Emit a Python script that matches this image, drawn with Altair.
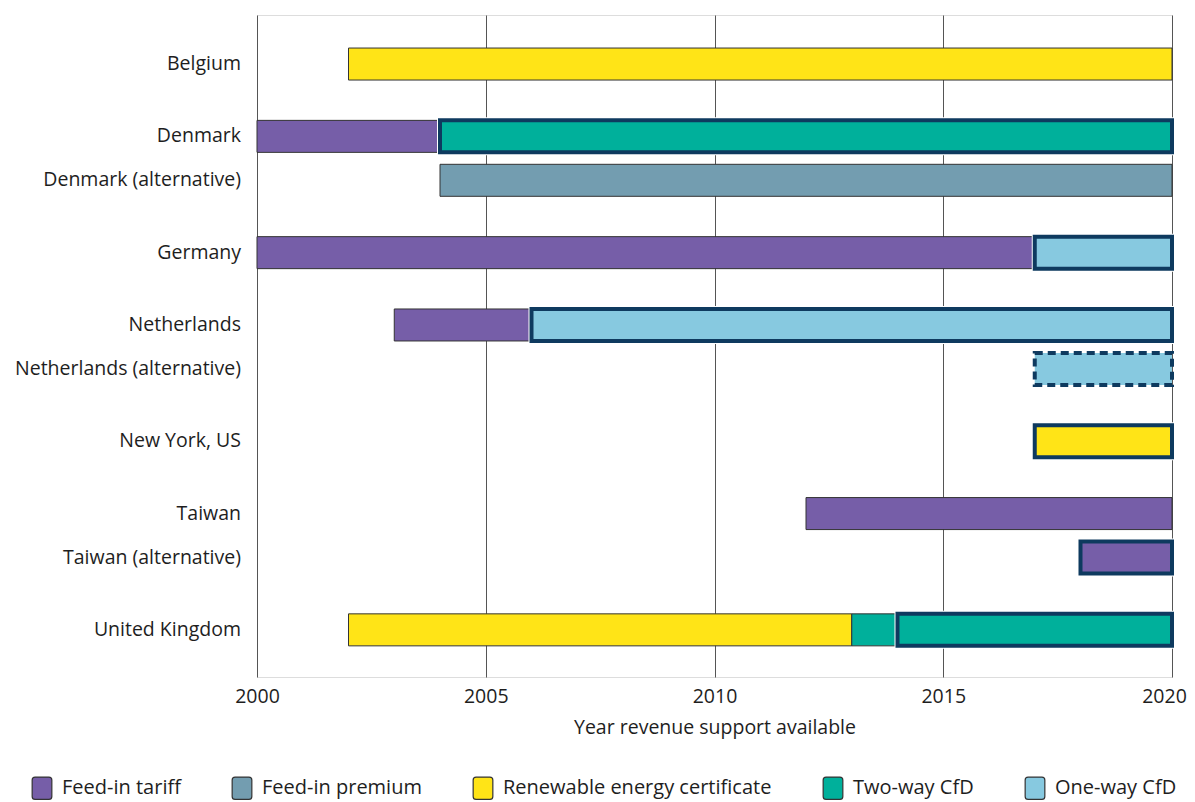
import altair as alt
import pandas as pd

# Rows (top to bottom) and their grouping
rows = ["Belgium", "Denmark", "Denmark (alternative)", "Germany", "Netherlands",
        "Netherlands (alternative)", "New York, US", "Taiwan", "Taiwan (alternative)",
        "United Kingdom"]
row_group = [0, 1, 1, 2, 3, 3, 4, 5, 5, 6]
row_sub = [0, -1, 1, 0, -1, 1, 0, -1, 1, 0]

# Segments
seg_row = ["Belgium", "Denmark", "Denmark", "Denmark (alternative)", "Germany", "Germany",
           "Netherlands", "Netherlands", "Netherlands (alternative)", "New York, US",
           "Taiwan", "Taiwan (alternative)", "United Kingdom", "United Kingdom", "United Kingdom"]
seg_start = [2002, 2000, 2004, 2004, 2000, 2017, 2003, 2006, 2017, 2017, 2012, 2018, 2002, 2013, 2014]
seg_end = [2020, 2004, 2020, 2020, 2017, 2020, 2006, 2020, 2020, 2020, 2020, 2020, 2013, 2014, 2020]
seg_type = ["Renewable energy certificate", "Feed-in tariff", "Two-way CfD", "Feed-in premium",
            "Feed-in tariff", "One-way CfD", "Feed-in tariff", "One-way CfD", "One-way CfD",
            "Renewable energy certificate", "Feed-in tariff", "Feed-in tariff",
            "Renewable energy certificate", "Two-way CfD", "Two-way CfD"]
seg_style = ["plain", "plain", "solid", "plain", "plain", "solid", "plain", "solid", "dashed",
             "solid", "plain", "solid", "plain", "plain", "solid"]

types = ["Feed-in tariff", "Feed-in premium", "Renewable energy certificate", "Two-way CfD", "One-way CfD"]
type_colors = ["#765EA8", "#739DB0", "#FFE417", "#00B09B", "#87C9E0"]

x_ticks = [2000, 2005, 2010, 2015, 2020]

SUB = 0.233
pos_map = {r: g + s * SUB for r, g, s in zip(rows, row_group, row_sub)}

rows_df = pd.DataFrame({"row": rows})
rows_df["pos"] = rows_df["row"].map(pos_map)

seg = pd.DataFrame({"row": seg_row, "start": seg_start, "end": seg_end,
                    "type": seg_type, "style": seg_style})
seg["pos"] = seg["row"].map(pos_map)

FONT = "Open Sans"
FS = 19.5
NAVY = "#0E3A5F"
TXT = "#1e1e1e"

xscale = alt.Scale(domain=[2000, 2020], nice=False, zero=False, padding=0)
yscale = alt.Scale(domain=[-0.52, 6.5], reverse=True, nice=False, zero=False, padding=0)
cscale = alt.Scale(domain=types, range=type_colors)

rounded = ("M-0.62,-1 H0.62 Q0.88,-1 0.88,-0.74 V0.74 Q0.88,1 0.62,1 H-0.62 "
           "Q-0.88,1 -0.88,0.74 V-0.74 Q-0.88,-1 -0.62,-1 Z")

xenc = alt.X("start:Q", scale=xscale,
             axis=alt.Axis(values=x_ticks, format="d", labelFlush=False,
                           grid=True, gridColor="#555555", gridWidth=1,
                           ticks=False, domain=False, labelPadding=10,
                           labelOffset={"condition": {"test": "datum.value == 2020", "value": -8}, "value": 0},
                           labelFontSize=FS, labelColor=TXT, labelFont=FONT,
                           title="Year revenue support available", titleFontSize=FS,
                           titleFontWeight="normal", titleColor=TXT, titleFont=FONT,
                           titlePadding=13))
yenc = alt.Y("pos:Q", scale=yscale, axis=None)

base = alt.Chart(seg)

plain = base.transform_filter(alt.datum.style == "plain").mark_bar(
    size=32, stroke="#333333", strokeWidth=1
).encode(
    x=xenc, x2="end:Q", y=yenc,
    color=alt.Color("type:N", scale=cscale,
                    legend=alt.Legend(orient="none", legendX=-227, legendY=761,
                                      direction="horizontal", columns=5, title=None,
                                      symbolType=rounded, symbolSize=500,
                                      symbolStrokeColor="#333333", symbolStrokeWidth=1.2,
                                      symbolOpacity=1, labelFontSize=20, labelFont=FONT,
                                      labelColor=TXT, labelOffset=8,
                                      columnPadding=48, labelLimit=400))
)

halo = base.transform_filter(alt.datum.style == "solid").mark_bar(
    size=32, stroke="#ffffff", strokeWidth=6
).encode(x=xenc, x2="end:Q", y=yenc, color=alt.Color("type:N", scale=cscale, legend=None))

solid = base.transform_filter(alt.datum.style == "solid").mark_bar(
    size=32, stroke=NAVY, strokeWidth=4
).encode(x=xenc, x2="end:Q", y=yenc, color=alt.Color("type:N", scale=cscale, legend=None))

dashed = base.transform_filter(alt.datum.style == "dashed").mark_bar(
    size=32, stroke=NAVY, strokeWidth=4, strokeDash=[8, 5]
).encode(x=xenc, x2="end:Q", y=yenc, color=alt.Color("type:N", scale=cscale, legend=None))

labels = alt.Chart(rows_df).mark_text(
    align="right", baseline="middle", fontSize=FS, font=FONT, color=TXT
).encode(x=alt.value(-16), y=yenc, text="row:N")

chart = alt.layer(plain, halo, solid, dashed, labels).properties(
    width=915, height=662,
    autosize=alt.AutoSizeParams(type="none"),
    padding={"left": 249, "top": 7, "right": 15, "bottom": 140},
).configure_view(stroke=None).configure(font=FONT)

chart.save("out.html", embed_options={"renderer": "svg", "actions": False})
